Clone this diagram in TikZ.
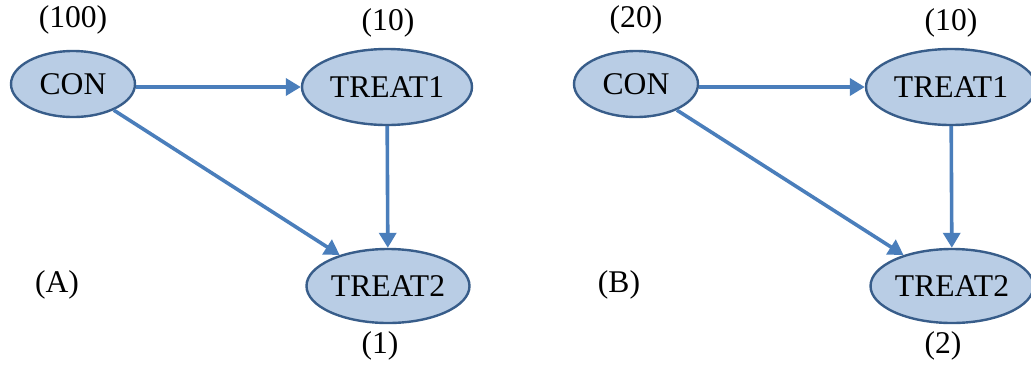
\documentclass[tikz,border=0pt]{standalone}
\usepackage{fontspec}
\setmainfont{Liberation Serif}
\usetikzlibrary{shapes.geometric,arrows.meta}
\definecolor{nodefill}{HTML}{B9CDE5}
\definecolor{nodeline}{HTML}{385D8A}
\definecolor{arrowblue}{HTML}{4A7EBB}

\begin{document}
\begin{tikzpicture}[x=0.5pt, y=-0.5pt, font=\fontsize{15.8}{19}\selectfont,
    main/.style = {draw=nodeline, fill=nodefill, ellipse, line width=1.2pt, inner sep=-4pt},
    con/.style = {main, minimum width=62pt, minimum height=33pt},
    treat/.style = {main, minimum width=85pt, minimum height=38pt},
    link/.style = {draw=arrowblue, line width=1.8pt, -{Triangle[length=7.5pt, width=8.5pt]}}]
    \useasboundingbox (0,0) rectangle (1031,365);
    % panel A
    \node[con]   (ca)  at (73,84)  {CON};
    \node[treat] (ta1) at (387,87) {TREAT1};
    \node[treat, minimum width=81.5pt, minimum height=37pt] (ta2) at (388,286) {TREAT2};
    \node (na0) at (73,20)   {(100)};
    \node (na1) at (388,23)  {(10)};
    \node (na2) at (380,346) {(1)};
    \node (la)  at (57,285)  {(A)};
    \draw[link] (ca.east |- ta1) -- (ta1);
    \draw[link] (ca) -- (ta2);
    \draw[link] (ta1) -- (ta2);
    % panel B
    \node[con]   (cb)  at (636,84) {CON};
    \node[treat] (tb1) at (951,87) {TREAT1};
    \node[treat, minimum width=81.5pt, minimum height=37pt] (tb2) at (952,286) {TREAT2};
    \node (nb0) at (636,20)  {(20)};
    \node (nb1) at (951,23)  {(10)};
    \node (nb2) at (943,346) {(2)};
    \node (lb)  at (619,285) {(B)};
    \draw[link] (cb.east |- tb1) -- (tb1);
    \draw[link] (cb) -- (tb2);
    \draw[link] (tb1) -- (tb2);
\end{tikzpicture}
\end{document}
